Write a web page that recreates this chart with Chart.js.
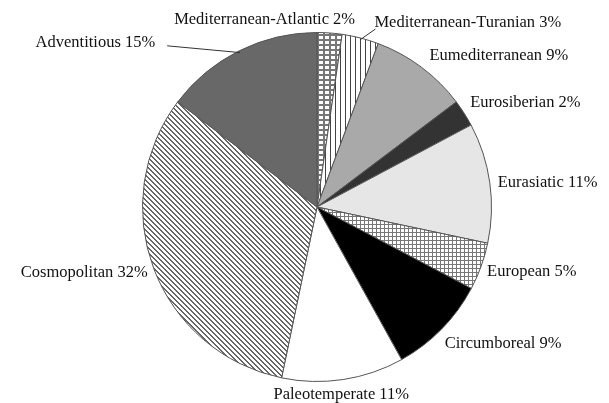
<!DOCTYPE html>
<html>
<head>
<meta charset="utf-8">
<script src="https://cdn.jsdelivr.net/npm/chart.js@4"></script>
<style>
  html, body { margin: 0; padding: 0; background: #fff; }
  canvas { display: block; }
</style>
</head>
<body>
<canvas id="pie-chart" width="609" height="403"></canvas>
<script>
// Données du graphique
const categories = [
    'Mediterranean-Atlantic', 'Mediterranean-Turanian', 'Eumediterranean', 'Eurosiberian',
    'Eurasiatic', 'European', 'Circumboreal', 'Paleotemperate', 'Cosmopolitan', 'Adventitious'
];
const shares = [2.3, 3.4, 9.0, 2.5, 11.1, 4.4, 9.2, 11.3, 32.0, 14.7];
const percentLabels = ['2%', '3%', '9%', '2%', '11%', '5%', '9%', '11%', '32%', '15%'];

// Placement des étiquettes (décalage depuis le bord de la part)
const labelLayout = [
    { dx: -65, dy: -13, align: 'center' },
    { dx: 14, dy: -15, align: 'left', leader: true },
    { dx: 8, dy: -12, align: 'left' },
    { dx: 6, dy: -11, align: 'left' },
    { dx: 8, dy: 0, align: 'left' },
    { dx: 6, dy: 5, align: 'left' },
    { dx: 3, dy: 15, align: 'left' },
    { dx: -2, dy: 15, align: 'center' },
    { dx: -6, dy: 4, align: 'right' },
    { dx: -84, dy: -8, align: 'right', leader: true }
];

// Motifs de remplissage
function makePattern(w, h, draw) {
    const c = document.createElement('canvas');
    c.width = w;
    c.height = h;
    const g = c.getContext('2d');
    draw(g);
    return g.createPattern(c, 'repeat');
}

const brick = makePattern(6, 5, g => {
    g.fillStyle = '#777';
    g.fillRect(0, 0, 6, 5);
    g.fillStyle = '#fff';
    g.fillRect(1, 1, 4, 3);
});
const vStripes = makePattern(5, 1, g => {
    g.fillStyle = '#fff';
    g.fillRect(0, 0, 5, 1);
    g.fillStyle = '#444';
    g.fillRect(0, 0, 1, 1);
});
const grid = makePattern(4, 4, g => {
    g.fillStyle = '#fff';
    g.fillRect(0, 0, 4, 4);
    g.fillStyle = '#777';
    g.fillRect(0, 0, 4, 1);
    g.fillRect(0, 0, 1, 4);
});
const diag = makePattern(5, 5, g => {
    g.fillStyle = '#fff';
    g.fillRect(0, 0, 5, 5);
    g.fillStyle = '#666';
    for (let i = 0; i < 5; i++) {
        g.fillRect(i, i, 1, 1);
        g.fillRect((i + 1) % 5, i, 1, 1);
    }
});

const fills = [brick, vStripes, '#a9a9a9', '#333333', '#e6e6e6', grid, '#000000', '#ffffff', diag, '#686868'];

// Étiquettes dessinées autour du camembert
const outsideLabels = {
    id: 'outsideLabels',
    afterDraw(chart) {
        const ctx = chart.ctx;
        const arcs = chart.getDatasetMeta(0).data;
        ctx.save();
        ctx.font = '16.5px "Liberation Serif", "Times New Roman", serif';
        ctx.fillStyle = '#111';
        ctx.textBaseline = 'middle';
        arcs.forEach((arc, i) => {
            const p = arc.getProps(['x', 'y', 'startAngle', 'endAngle', 'outerRadius'], true);
            const mid = (p.startAngle + p.endAngle) / 2;
            const ax = p.x + Math.cos(mid) * p.outerRadius;
            const ay = p.y + Math.sin(mid) * p.outerRadius;
            const lay = labelLayout[i];
            const tx = ax + lay.dx;
            const ty = ay + lay.dy;
            const text = categories[i] + ' ' + percentLabels[i];
            ctx.textAlign = lay.align;
            ctx.fillText(text, tx, ty);
            if (lay.leader) {
                const lx = lay.align === 'right' ? tx + 12 : tx + 1;
                const ly = lay.align === 'right' ? ty + 3 : ty + 6;
                ctx.strokeStyle = '#333';
                ctx.lineWidth = 1;
                ctx.beginPath();
                ctx.moveTo(lx, ly);
                ctx.lineTo(ax - Math.cos(mid) * 2, ay - Math.sin(mid) * 2);
                ctx.stroke();
            }
        });
        ctx.restore();
    }
};

const pieChart = new Chart(
    document.getElementById('pie-chart'),
    {
        type: 'pie',
        data: {
            labels: categories,
            datasets: [{
                data: shares,
                backgroundColor: fills,
                borderColor: '#555',
                borderWidth: 1
            }]
        },
        options: {
            animation: false,
            responsive: false,
            layout: {
                padding: { top: 32, bottom: 21, left: 142, right: 117 }
            },
            plugins: {
                legend: { display: false },
                tooltip: { enabled: false }
            }
        },
        plugins: [outsideLabels]
    }
);
</script>
</body>
</html>
